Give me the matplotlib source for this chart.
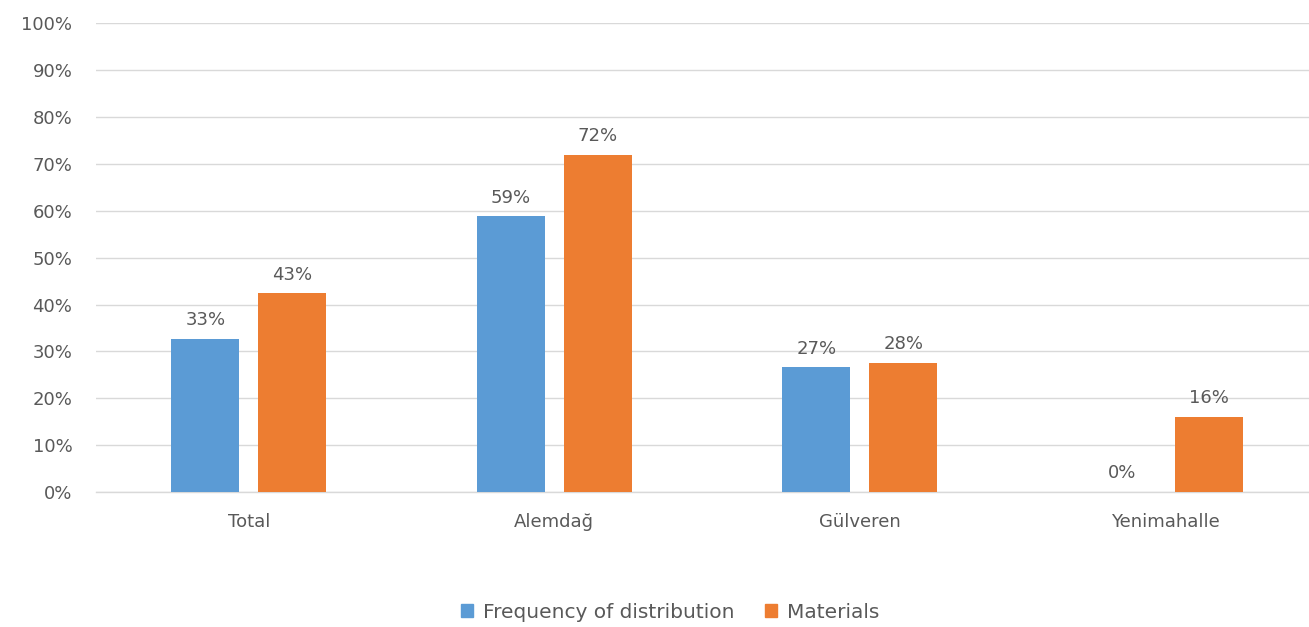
import matplotlib
matplotlib.use("Agg")
import matplotlib.pyplot as plt
from matplotlib.patches import Patch
import numpy as np

plt.rcParams["font.family"] = ["DejaVu Sans"]

categories = ["Total", "Alemdağ", "Gülveren", "Yenimahalle"]
freq_values = [32.7, 58.8, 26.6, 0.0]
freq_labels = ["33%", "59%", "27%", "0%"]
mat_values = [42.4, 72.0, 27.6, 16.0]
mat_labels = ["43%", "72%", "28%", "16%"]
y_ticks = [0, 10, 20, 30, 40, 50, 60, 70, 80, 90, 100]

COLOR_BLUE = "#5B9BD5"
COLOR_ORANGE = "#ED7D31"
COLOR_TEXT = "#595959"
COLOR_GRID = "#D9D9D9"

fig = plt.figure(figsize=(13.09, 6.27), dpi=100, facecolor="white")
# axes runs a bit past the right edge, like the source crop
ax = fig.add_axes([96 / 1309, 0.215, 1222 / 1309, 0.748])

x = np.arange(len(categories))
width = 0.223
offset = 0.142

bars_f = ax.bar(x - offset, freq_values, width, color=COLOR_BLUE, zorder=3)
bars_m = ax.bar(x + offset, mat_values, width, color=COLOR_ORANGE, zorder=3)

for bars, labels in ((bars_f, freq_labels), (bars_m, mat_labels)):
    for b, lab in zip(bars, labels):
        ax.annotate(lab, (b.get_x() + b.get_width() / 2, b.get_height()),
                    xytext=(0, 7), textcoords="offset points",
                    ha="center", va="bottom", fontsize=13, color=COLOR_TEXT)

ax.set_xlim(-0.5, len(categories) - 0.5)
ax.set_ylim(0, 100)
ax.set_yticks(y_ticks)
ax.set_yticklabels([f"{t}%" for t in y_ticks])
ax.set_xticks(x)
ax.set_xticklabels(categories)
ax.tick_params(axis="both", length=0, colors=COLOR_TEXT, labelsize=13)
ax.tick_params(axis="y", pad=17)
ax.tick_params(axis="x", pad=15)

ax.grid(axis="y", color=COLOR_GRID, linewidth=1, zorder=0)
for side in ("top", "right", "left"):
    ax.spines[side].set_visible(False)
ax.spines["bottom"].set_color(COLOR_GRID)
ax.spines["bottom"].set_linewidth(1)

handles = [Patch(color=COLOR_BLUE), Patch(color=COLOR_ORANGE)]
fig.legend(handles, ["Frequency of distribution", "Materials"],
           loc="center", bbox_to_anchor=(670 / 1309, 1 - 612 / 627), ncol=2,
           frameon=False, fontsize=14.5, handlelength=0.6, handleheight=0.6,
           handletextpad=0.5, columnspacing=1.5, labelcolor=COLOR_TEXT)

fig.savefig("out.png", dpi=100, facecolor="white")
